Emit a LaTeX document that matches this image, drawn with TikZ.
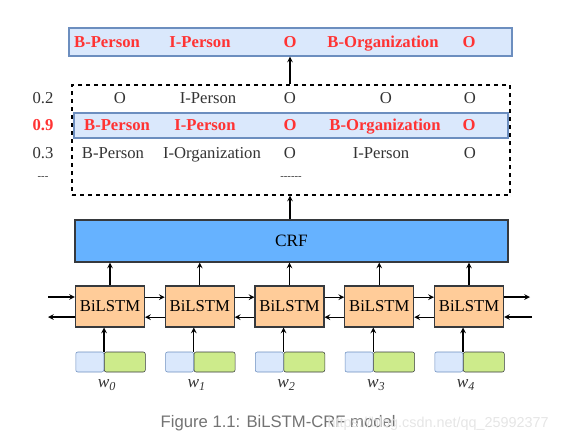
\documentclass[tikz,border=0pt]{standalone}
\usepackage{fontspec}
\setmainfont{Liberation Serif}
\newfontfamily\capfont{Liberation Sans}
\usetikzlibrary{positioning}

\definecolor{tagfill}{HTML}{DAE8FC}
\definecolor{tagline}{HTML}{6C8EBF}
\definecolor{crffill}{HTML}{66B2FF}
\definecolor{lstmfill}{HTML}{FFCC99}
\definecolor{embgreen}{HTML}{CDEB8B}
\definecolor{boxline}{HTML}{36393D}
\definecolor{tagred}{HTML}{FF3333}
\definecolor{txtgray}{HTML}{333333}

\tikzset{
  tagrow/.style={draw=tagline,fill=tagfill,line width=0.8pt,minimum width=#1,minimum height=21pt,inner sep=0pt},
  besttag/.style={text=tagred,text height=1.6ex,text depth=0.4ex,font=\bfseries\fontsize{12.5}{14}\selectfont},
  plaintag/.style={text=txtgray,text height=1.6ex,text depth=0.4ex,font=\fontsize{12.5}{14}\selectfont},
  lstmbox/.style={draw=boxline,fill=lstmfill,line width=0.8pt,minimum width=51.75pt,minimum height=30.75pt,inner sep=0pt,font=\fontsize{12.5}{14}\selectfont},
  embleft/.style={draw=tagline,fill=tagfill,rounded corners=1.5pt,minimum width=21pt,minimum height=15pt,inner sep=0pt},
  embright/.style={draw=boxline,fill=embgreen,rounded corners=1.5pt,minimum width=30.75pt,minimum height=15pt,inner sep=0pt},
  flow/.style={->,line width=0.9pt}
}

\begin{document}
\begin{tikzpicture}[x=0.75pt,y=-0.75pt,>=stealth]
\useasboundingbox (0,0) rectangle (576,446);

% --- Sequenza di uscita ---
\node[tagrow=332.25pt] (out) at (290.5,42) {};
\foreach \t/\x [count=\i] in {B-Person/107,I-Person/200,O/290,B-Organization/383,O/469}
  \node[besttag] (out\i) at (\x,44) {\t};

% --- Candidati del CRF ---
\node[draw,dashed,line width=0.8pt,minimum width=328.5pt,minimum height=82.5pt] (cand) at (291,140) {};
\node[tagrow=325.5pt,minimum height=18.75pt] (best) at (291,125.5) {};
\foreach \t/\x in {O/120,I-Person/208,O/290,O/386,O/470}
  \node[plaintag] at (\x,99.5) {\t};
\foreach \t/\x in {B-Person/117,I-Person/205,O/290,B-Organization/385,O/469}
  \node[besttag] at (\x,127) {\t};
\foreach \t/\x in {B-Person/113,I-Organization/212,O/290,I-Person/381,O/470}
  \node[plaintag] at (\x,154.5) {\t};
\node[plaintag,font=\fontsize{8}{9}\selectfont] at (291,176) {-{}-{}-{}-{}-{}-};

% punteggi
\node[plaintag] at (43,99.5) {0.2};
\node[besttag] at (43,127) {0.9};
\node[plaintag] at (43,154.5) {0.3};
\node[plaintag,font=\fontsize{8}{9}\selectfont] at (43,176) {-{}-{}-};

\draw[flow] (cand.north -| out3) -- (out.south -| out3);

% --- CRF ---
\node[draw=boxline,fill=crffill,line width=0.8pt,minimum width=324.75pt,minimum height=31.5pt,font=\fontsize{13}{15}\selectfont] (crf) at (291.5,241) {CRF};
\draw[flow] (crf.north -| out3) -- (cand.south -| out3);

% --- BiLSTM ed embedding ---
\foreach \i in {0,...,4}{
  \node[lstmbox] (lstm\i) at ({110+89.75*\i},306.5) {BiLSTM};
  \node[embleft,anchor=west] (ec\i) at ({75.5+89.75*\i},362) {};
  \node[embright,anchor=west] (ew\i) at (ec\i.east) {};
  \node[text=txtgray,font=\fontsize{13}{15}\selectfont] (w\i) at ({107+89.75*\i},385) {$\mathit{w}_{\mathit{\i}}$};
  \draw[flow] (lstm\i.north) -- (crf.south -| lstm\i.north);
  \draw[flow] (ew\i.north west) -- (lstm\i.south -| ew\i.north west);
}
\foreach \i [evaluate=\i as \j using int(\i+1)] in {0,...,3}{
  \draw[flow] ([yshift=7pt]lstm\i.east) -- ([yshift=7pt]lstm\j.west);
  \draw[flow] ([yshift=-8pt]lstm\j.west) -- ([yshift=-8pt]lstm\i.east);
}

% estremi liberi
\coordinate (fwin) at (48,297);
\coordinate (bwout) at (48,317);
\coordinate (fwout) at (530,297);
\coordinate (bwin) at (532,317);
\draw[flow] (fwin) -- (fwin -| lstm0.west);
\draw[flow] (bwout -| lstm0.west) -- (bwout);
\draw[flow] (fwout -| lstm4.east) -- (fwout);
\draw[flow] (bwin) -- (bwin -| lstm4.east);

% --- Didascalia ---
\node[text=black!55,font=\capfont\fontsize{12.5}{14}\selectfont,anchor=west] (cap) at (156,423) {Figure 1.1: BiLSTM-CRF model};
\node[text=black!10,font=\capfont\fontsize{10.8}{13}\selectfont,anchor=west] (mark) at (323,424) {https://blog.csdn.net/qq\_25992377};

\end{tikzpicture}
\end{document}
